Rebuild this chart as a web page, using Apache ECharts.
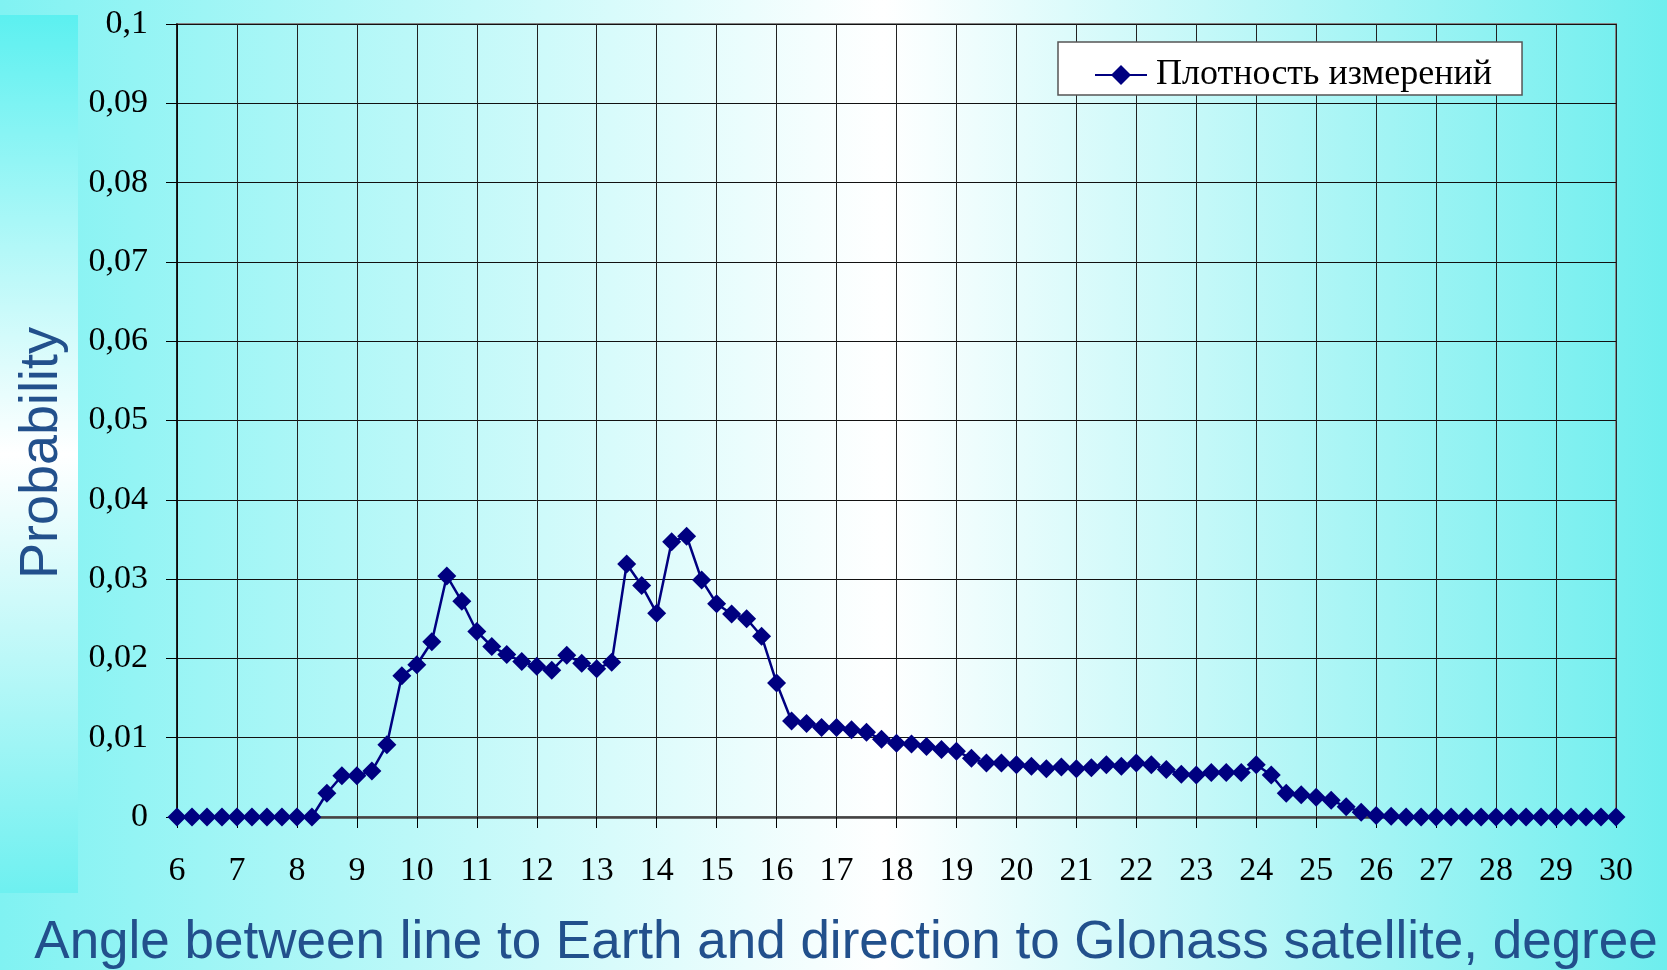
<!DOCTYPE html>
<html>
<head>
<meta charset="utf-8">
<script src="https://cdn.jsdelivr.net/npm/echarts@6/dist/echarts.min.js"></script>
<style>
  html, body { margin: 0; padding: 0; }
  body {
    width: 1667px; height: 970px; overflow: hidden;
    background: linear-gradient(to right, #80f2f2 0%, #ffffff 53%, #6eeeee 100%);
  }
  #chart { width: 1667px; height: 970px; }
</style>
</head>
<body>
<div id="chart"></div>
<script>
// angle, degree (step of the measurement bins)
var angles = [
  6, 6.25, 6.5, 6.75, 7, 7.25, 7.5, 7.75,
  8, 8.25, 8.5, 8.75, 9, 9.25, 9.5, 9.75,
  10, 10.25, 10.5, 10.75, 11, 11.25, 11.5, 11.75,
  12, 12.25, 12.5, 12.75, 13, 13.25, 13.5, 13.75,
  14, 14.25, 14.5, 14.75, 15, 15.25, 15.5, 15.75,
  16, 16.25, 16.5, 16.75, 17, 17.25, 17.5, 17.75,
  18, 18.25, 18.5, 18.75, 19, 19.25, 19.5, 19.75,
  20, 20.25, 20.5, 20.75, 21, 21.25, 21.5, 21.75,
  22, 22.25, 22.5, 22.75, 23, 23.25, 23.5, 23.75,
  24, 24.25, 24.5, 24.75, 25, 25.25, 25.5, 25.75,
  26, 26.25, 26.5, 26.75, 27, 27.25, 27.5, 27.75,
  28, 28.25, 28.5, 28.75, 29, 29.25, 29.5, 29.75,
  30
];
// плотность измерений (probability)
var density = [
  0, 0, 0, 0, 0, 0, 0, 0,
  0, 0, 0.0030, 0.0052, 0.0052, 0.0058, 0.0091, 0.0178,
  0.0192, 0.0221, 0.0304, 0.0272, 0.0234, 0.0215, 0.0205, 0.0196,
  0.0190, 0.0185, 0.0204, 0.0194, 0.0187, 0.0195, 0.0319, 0.0292,
  0.0257, 0.0347, 0.0354, 0.0299, 0.0269, 0.0256, 0.0250, 0.0228,
  0.0169, 0.0121, 0.0118, 0.0113, 0.0113, 0.0110, 0.0107, 0.0098,
  0.0093, 0.0092, 0.0089, 0.0085, 0.0083, 0.0074, 0.0068, 0.0068,
  0.0066, 0.0064, 0.0061, 0.0063, 0.0061, 0.0062, 0.0066, 0.0064,
  0.0068, 0.0066, 0.0060, 0.0054, 0.0053, 0.0056, 0.0056, 0.0056,
  0.0066, 0.0053, 0.0030, 0.0028, 0.0025, 0.0021, 0.0013, 0.0006,
  0.0002, 0.0001, 0, 0, 0, 0, 0, 0,
  0, 0, 0, 0, 0, 0, 0, 0,
  0
];
var seriesName = 'Плотность измерений';
var xTitle = 'Angle between line to Earth and direction to Glonass satellite, degree';
var yTitle = 'Probability';

var points = angles.map(function (a, i) { return [a, density[i]]; });

var myChart = echarts.init(document.getElementById('chart'));
var serif = '"Liberation Serif", "Times New Roman", serif';
var sans = '"Liberation Sans", Arial, sans-serif';

var option = {
  backgroundColor: 'transparent',
  animation: false,
  graphic: [
    {
      type: 'rect', z: -10, silent: true,
      shape: { x: 0, y: 15, width: 78, height: 878 },
      style: {
        fill: new echarts.graphic.LinearGradient(0, 0, 0, 1, [
          { offset: 0, color: '#5cf0f0' },
          { offset: 0.5, color: '#ffffff' },
          { offset: 1, color: '#6ef0f0' }
        ])
      }
    },
    {
      type: 'text', x: 42, y: 453, rotation: Math.PI / 2,
      style: {
        text: yTitle, fill: '#22508c', font: '54px ' + sans,
        align: 'center', verticalAlign: 'middle'
      }
    },
    {
      type: 'text', x: 846, y: 943,
      style: {
        text: xTitle, fill: '#22508c', font: '53px ' + sans,
        align: 'center', verticalAlign: 'middle'
      }
    }
  ],
  legend: {
    left: 1058, top: 42,
    padding: [15, 30, 2, 36],
    itemWidth: 52, itemHeight: 25,
    backgroundColor: '#ffffff',
    borderColor: '#555555', borderWidth: 1.5, borderRadius: 0,
    textStyle: { fontFamily: serif, fontSize: 36, color: '#000', padding: [0, 0, 0, 4] },
    data: [seriesName]
  },
  grid: {
    left: 177, top: 24, right: 51, bottom: 153,
    show: true, borderColor: '#858585', borderWidth: 2,
    backgroundColor: 'transparent'
  },
  xAxis: {
    type: 'value', min: 6, max: 30, interval: 1,
    axisLine: { show: true, onZero: false, lineStyle: { color: '#444', width: 2.5 } },
    axisTick: { show: true, length: 11, lineStyle: { color: '#000', width: 1 } },
    axisLabel: { margin: 37, fontFamily: serif, fontSize: 34, color: '#000' },
    splitLine: { show: true, lineStyle: { color: '#222', width: 1 } }
  },
  yAxis: {
    type: 'value', min: 0, max: 0.1, interval: 0.01,
    axisLine: { show: true, lineStyle: { color: '#000', width: 1.5 } },
    axisTick: { show: true, length: 11, lineStyle: { color: '#000', width: 1 } },
    axisLabel: {
      margin: 29, fontFamily: serif, fontSize: 34, color: '#000',
      formatter: function (v) { return String(+v.toFixed(2)).replace('.', ','); }
    },
    splitLine: { show: true, lineStyle: { color: '#111', width: 1 } }
  },
  series: [
    {
      name: seriesName,
      type: 'line',
      data: points,
      symbol: 'diamond',
      symbolSize: 19,
      lineStyle: { color: '#000080', width: 2.5 },
      itemStyle: { color: '#000080' },
      z: 5
    }
  ]
};
myChart.setOption(option);
</script>
</body>
</html>
